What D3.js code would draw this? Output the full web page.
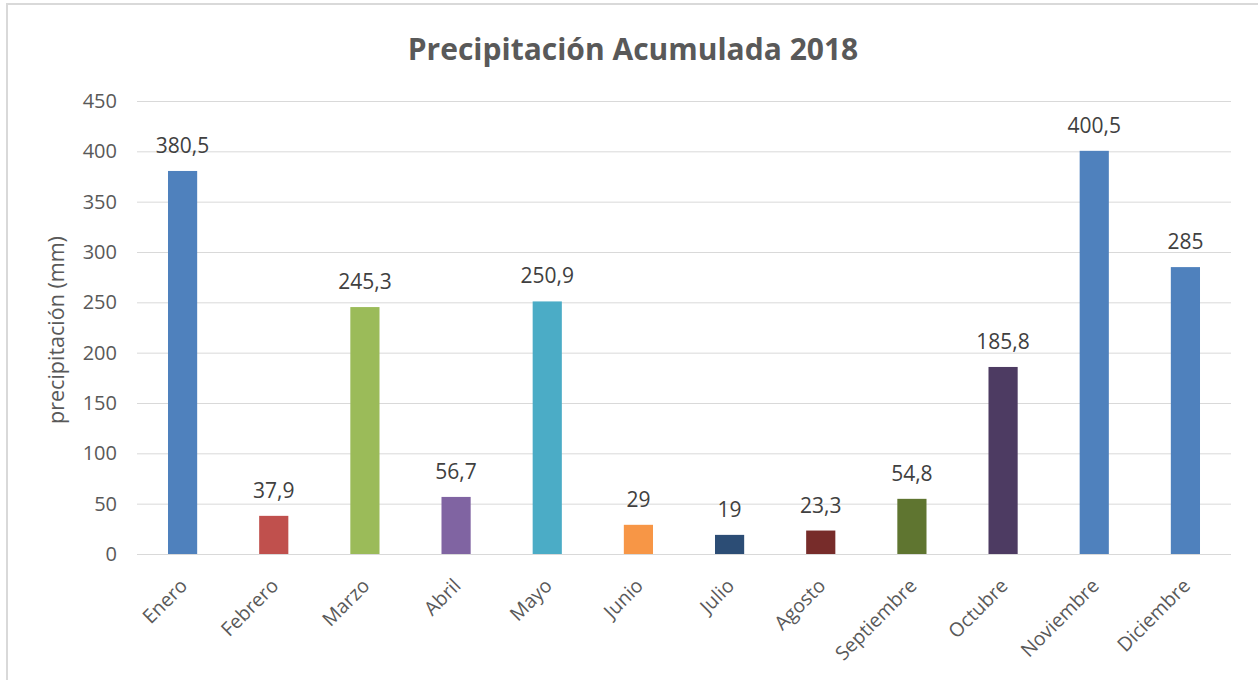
<!DOCTYPE html>
<html>
<head>
<meta charset="utf-8">
<script src="https://cdn.jsdelivr.net/npm/d3@7"></script>
<style>
  html, body { margin: 0; padding: 0; background: #fff; }
  svg { display: block; }
</style>
</head>
<body>
<div id="chart"></div>
<script>
// ── Data ─────────────────────────────
const MONTHS = ["Enero", "Febrero", "Marzo", "Abril", "Mayo", "Junio",
                "Julio", "Agosto", "Septiembre", "Octubre", "Noviembre", "Diciembre"];
const PRECIP = [380.5, 37.9, 245.3, 56.7, 250.9, 29, 19, 23.3, 54.8, 185.8, 400.5, 285];
const COLORS = ["#4F81BD", "#C0504D", "#9BBB59", "#8064A2", "#4BACC6", "#F79646",
                "#2C4D75", "#772C2A", "#5F7530", "#4D3B62", "#4F81BD", "#4F81BD"];
const Y_TICKS = [0, 50, 100, 150, 200, 250, 300, 350, 400, 450];

const W = 1258, H = 680;
const FONT = "'Open Sans', 'Liberation Sans', sans-serif";
const plot = { left: 137, right: 1231, top: 101, bottom: 554 };

const svg = d3.select("#chart").append("svg")
  .attr("width", W).attr("height", H);

// chart border
svg.append("rect")
  .attr("x", 7).attr("y", 4)
  .attr("width", W + 10).attr("height", H + 10)
  .attr("fill", "#fff")
  .attr("stroke", "#D9D9D9").attr("stroke-width", 2);

const x = d3.scaleBand()
  .domain(MONTHS)
  .range([plot.left, plot.right])
  .paddingInner(0.68).paddingOuter(0.34);

const y = d3.scaleLinear()
  .domain([0, 450])
  .range([plot.bottom, plot.top]);

// ── Grid lines ───────────────────────
svg.append("g")
  .selectAll("line")
  .data(Y_TICKS)
  .join("line")
  .attr("x1", plot.left).attr("x2", plot.right)
  .attr("y1", d => y(d) + 0.5).attr("y2", d => y(d) + 0.5)
  .attr("stroke", "#D9D9D9").attr("stroke-width", 1);

// ── Y axis labels ────────────────────
const yAxis = svg.append("g")
  .attr("transform", `translate(${plot.left - 20},0)`)
  .call(d3.axisLeft(y).tickValues(Y_TICKS).tickSize(0).tickPadding(0));
yAxis.select(".domain").remove();
yAxis.selectAll("text")
  .attr("fill", "#595959")
  .attr("font-size", "20px")
  .attr("font-family", FONT);

svg.append("text")
  .attr("transform", `translate(64,330) rotate(-90)`)
  .attr("text-anchor", "middle")
  .attr("fill", "#595959")
  .attr("font-size", "21.5px")
  .attr("font-family", FONT)
  .text("precipitación (mm)");

// ── Bars ─────────────────────────────
svg.append("g")
  .selectAll("rect")
  .data(MONTHS)
  .join("rect")
  .attr("x", d => x(d))
  .attr("y", (d, i) => y(PRECIP[i]))
  .attr("width", x.bandwidth())
  .attr("height", (d, i) => y(0) - y(PRECIP[i]))
  .attr("fill", (d, i) => COLORS[i]);

// value labels
svg.append("g")
  .selectAll("text")
  .data(MONTHS)
  .join("text")
  .attr("x", d => x(d) + x.bandwidth() / 2)
  .attr("y", (d, i) => y(PRECIP[i]) - 18)
  .attr("text-anchor", "middle")
  .attr("fill", "#404040")
  .attr("font-size", "21px")
  .attr("font-family", FONT)
  .text((d, i) => String(PRECIP[i]).replace(".", ","));

// ── X axis labels ────────────────────
const xAxis = svg.append("g")
  .attr("transform", `translate(0,${plot.bottom})`)
  .call(d3.axisBottom(x).tickSize(0).tickPadding(0));
xAxis.select(".domain").remove();
xAxis.selectAll("text")
  .attr("fill", "#595959")
  .attr("font-size", "19.5px")
  .attr("font-family", FONT)
  .attr("text-anchor", "end")
  .attr("dy", null)
  .attr("transform", "translate(6,33) rotate(-45)");

// title
svg.append("text")
  .attr("x", 633).attr("y", 60)
  .attr("text-anchor", "middle")
  .attr("fill", "#595959")
  .attr("font-size", "30px")
  .attr("font-weight", "bold")
  .attr("font-family", FONT)
  .text("Precipitación Acumulada 2018");
</script>
</body>
</html>
